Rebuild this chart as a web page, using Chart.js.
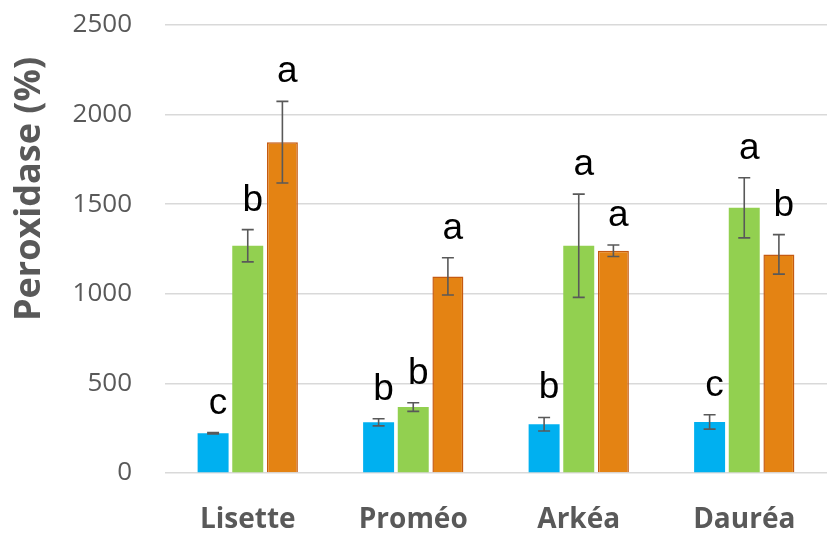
<!DOCTYPE html>
<html>
<head>
<meta charset="utf-8">
<script src="https://cdn.jsdelivr.net/npm/chart.js@4"></script>
<style>
  html, body { margin: 0; padding: 0; background: #fff; }
  #wrap { width: 827px; height: 535px; }
</style>
</head>
<body>
<div id="wrap"><canvas id="chart"></canvas></div>
<script>
// Data
const categories = ['Lisette', 'Proméo', 'Arkéa', 'Dauréa'];
const seriesNames = ['Série 1', 'Série 2', 'Série 3'];

const blueValues = [222, 283, 272, 285];
const blueErrors = [4, 20, 38, 40];
const blueLetters = ['c', 'b', 'b', 'c'];

const greenValues = [1268, 368, 1268, 1480];
const greenErrors = [90, 24, 288, 168];
const greenLetters = ['b', 'b', 'a', 'a'];

const orangeValues = [1846, 1097, 1240, 1220];
const orangeErrors = [228, 104, 32, 110];
const orangeLetters = ['a', 'a', 'a', 'b'];

const yTicks = [0, 500, 1000, 1500, 2000, 2500];
const yTitle = 'Peroxidase (%)';

const GREY = '#595959';

// error bars + significance letters, drawn from the scales
const errorBarPlugin = {
  id: 'errorBars',
  afterDatasetsDraw(chart) {
    const ctx = chart.ctx;
    const y = chart.scales.y;
    chart.data.datasets.forEach((ds, di) => {
      const meta = chart.getDatasetMeta(di);
      meta.data.forEach((bar, i) => {
        const v = ds.data[i], e = ds.errors[i];
        const yTop = y.getPixelForValue(v + e);
        const yBot = y.getPixelForValue(v - e);
        ctx.save();
        ctx.strokeStyle = GREY;
        ctx.lineWidth = 1.6;
        ctx.beginPath();
        ctx.moveTo(bar.x, yTop); ctx.lineTo(bar.x, yBot);
        ctx.moveTo(bar.x - 6, yTop); ctx.lineTo(bar.x + 6, yTop);
        ctx.moveTo(bar.x - 6, yBot); ctx.lineTo(bar.x + 6, yBot);
        ctx.stroke();
        // letter
        ctx.fillStyle = '#000';
        ctx.font = '37px "Liberation Sans", Arial, sans-serif';
        ctx.textAlign = 'center';
        ctx.textBaseline = 'alphabetic';
        ctx.fillText(ds.letters[i], bar.x + 5, yTop - 19);
        ctx.restore();
      });
    });
  }
};

// rotated axis title, placed like the original
const yTitlePlugin = {
  id: 'yTitle',
  afterDraw(chart) {
    const ctx = chart.ctx;
    ctx.save();
    ctx.translate(30, 189);
    ctx.rotate(-Math.PI / 2);
    ctx.fillStyle = GREY;
    ctx.font = 'bold 36px "Open Sans", sans-serif';
    ctx.textAlign = 'center';
    ctx.textBaseline = 'middle';
    ctx.fillText(yTitle, 0, 0);
    ctx.restore();
  }
};

function makeSet(label, data, errors, letters, color, border) {
  return {
    label, data, errors, letters,
    backgroundColor: color,
    borderColor: border || color,
    borderWidth: border ? 1.5 : 0,
    categoryPercentage: 0.628,
    barPercentage: 0.894
  };
}

new Chart(document.getElementById('chart'), {
  type: 'bar',
  data: {
    labels: categories,
    datasets: [
      makeSet(seriesNames[0], blueValues, blueErrors, blueLetters, '#00B0F0'),
      makeSet(seriesNames[1], greenValues, greenErrors, greenLetters, '#92D050'),
      makeSet(seriesNames[2], orangeValues, orangeErrors, orangeLetters, '#E48313', '#C55A11')
    ]
  },
  options: {
    responsive: true,
    maintainAspectRatio: false,
    animation: false,
    layout: { padding: { top: 25, right: 0, left: 0, bottom: 0 } },
    plugins: { legend: { display: false }, tooltip: { enabled: false } },
    scales: {
      x: {
        grid: { display: false },
        border: { display: false },
        ticks: {
          color: GREY,
          padding: 22,
          font: { family: '"Open Sans", sans-serif', size: 28, weight: 'bold' }
        },
        afterFit(scale) { scale.height = 62; scale.paddingLeft = 0; scale.paddingRight = 0; }
      },
      y: {
        min: 0,
        max: yTicks[yTicks.length - 1],
        afterBuildTicks(scale) { scale.ticks = yTicks.map(v => ({ value: v })); },
        grid: { color: '#D9D9D9', lineWidth: 1.5, drawTicks: false },
        border: { display: false },
        ticks: {
          color: GREY,
          padding: 33,
          font: { family: '"Open Sans", sans-serif', size: 26 },
          callback: v => String(v)
        },
        afterFit(scale) { scale.width = 165; scale.paddingTop = 0; scale.paddingBottom = 0; }
      }
    }
  },
  plugins: [errorBarPlugin, yTitlePlugin]
});
</script>
</body>
</html>
